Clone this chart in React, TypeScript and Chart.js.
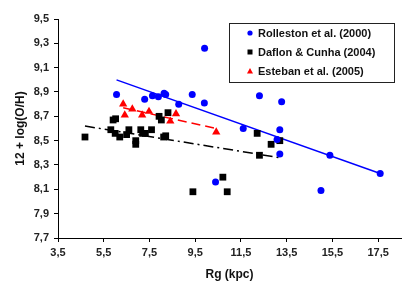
import React, { useEffect, useRef } from 'react';
import { Chart, registerables } from 'chart.js';

Chart.register(...registerables);

// ---- Data ----
const rolleston: [number, number][] = [
  [6.06, 8.88], [7.29, 8.84], [7.63, 8.87], [7.89, 8.86], [8.14, 8.89],
  [8.21, 8.88], [8.78, 8.8], [9.37, 8.88], [9.9, 8.81], [9.91, 9.26],
  [10.39, 8.16], [11.6, 8.6], [12.31, 8.87], [13.08, 8.51], [13.2, 8.59],
  [13.2, 8.39], [13.28, 8.82], [15.0, 8.09], [15.39, 8.38], [17.59, 8.23],
];
const daflon: [number, number][] = [
  [4.68, 8.53], [5.81, 8.59], [5.91, 8.67], [6.02, 8.68], [6.0, 8.56],
  [6.2, 8.53], [6.5, 8.55], [6.6, 8.59], [6.9, 8.5], [6.9, 8.47],
  [7.12, 8.59], [7.2, 8.56], [7.32, 8.56], [7.59, 8.59], [7.92, 8.7],
  [8.02, 8.67], [8.31, 8.73], [8.12, 8.53], [8.21, 8.54], [9.4, 8.08],
  [10.71, 8.2], [10.9, 8.08], [12.21, 8.56], [12.31, 8.38], [12.82, 8.47],
  [13.2, 8.5],
];
const esteban: [number, number][] = [
  [6.35, 8.8], [6.42, 8.71], [6.75, 8.76], [7.18, 8.71], [7.48, 8.74],
  [8.41, 8.66], [8.66, 8.72], [10.42, 8.57],
];
const rollestonFit: [number, number][] = [[6.06, 9.0], [17.59, 8.23]];
const daflonFit: [number, number][] = [[4.68, 8.62], [13.2, 8.36]];
const estebanFit: [number, number][] = [[6.35, 8.77], [10.42, 8.6]];

const seriesLabels = ['Rolleston et al. (2000)', 'Daflon & Cunha (2004)', 'Esteban et al. (2005)'];
const xTicks = [3.5, 5.5, 7.5, 9.5, 11.5, 13.5, 15.5, 17.5];
const yTicks = [7.7, 7.9, 8.1, 8.3, 8.5, 8.7, 8.9, 9.1, 9.3, 9.5];
const xTitle = 'Rg (kpc)';
const yTitle = '12 + log(O/H)';

const FONT = "'Liberation Sans', Arial, sans-serif";
const BLUE = '#0000ff';
const RED = '#ff0000';
const BLACK = '#000000';

const toPts = (a: [number, number][]) => a.map(([x, y]) => ({ x, y }));
const fmt = (v: number) => v.toFixed(1).replace('.', ',');

const boxLegend = {
  id: 'boxLegend',
  afterDraw(chart: any) {
    const ctx = chart.ctx as CanvasRenderingContext2D;
    const left = 229.5, top = 23.5, w = 165, h = 59;
    ctx.save();
    ctx.fillStyle = '#ffffff';
    ctx.fillRect(left, top, w, h);
    ctx.strokeStyle = '#222';
    ctx.lineWidth = 1;
    ctx.strokeRect(left, top, w, h);
    ctx.font = `bold 11px ${FONT}`;
    ctx.textBaseline = 'middle';
    ctx.textAlign = 'left';
    const rows = [33, 52, 71];
    chart.data.datasets.slice(0, 3).forEach((ds: any, i: number) => {
      const cy = rows[i];
      const cx = 250;
      ctx.fillStyle = ds.backgroundColor;
      if (ds.pointStyle === 'circle') {
        ctx.beginPath();
        ctx.arc(cx, cy, 2.6, 0, Math.PI * 2);
        ctx.fill();
      } else if (ds.pointStyle === 'rect') {
        ctx.fillRect(cx - 2.5, cy - 2.5, 5, 5);
      } else {
        ctx.beginPath();
        ctx.moveTo(cx, cy - 3);
        ctx.lineTo(cx + 3, cy + 2.5);
        ctx.lineTo(cx - 3, cy + 2.5);
        ctx.closePath();
        ctx.fill();
      }
      ctx.fillStyle = '#111';
      ctx.fillText(ds.label, 258, cy + 0.5);
    });
    ctx.restore();
  },
};

export default function App() {
  const ref = useRef<HTMLCanvasElement | null>(null);

  useEffect(() => {
    document.body.style.margin = '0';
    const canvas = ref.current;
    if (!canvas) return;
    const chart = new Chart(canvas, {
      type: 'scatter',
      data: {
        datasets: [
          {
            label: seriesLabels[0], data: toPts(rolleston), pointStyle: 'circle',
            backgroundColor: BLUE, borderColor: BLUE, pointRadius: 3.5, borderWidth: 0, order: 1,
          },
          {
            label: seriesLabels[1], data: toPts(daflon), pointStyle: 'rect',
            backgroundColor: BLACK, borderColor: BLACK, pointRadius: 4.8, borderWidth: 0, order: 1,
          },
          {
            label: seriesLabels[2], data: toPts(esteban), pointStyle: 'triangle',
            backgroundColor: RED, borderColor: RED, pointRadius: 4.8, borderWidth: 0, order: 1,
          },
          {
            label: 'fitR', data: toPts(rollestonFit), showLine: true, pointRadius: 0,
            borderColor: BLUE, borderWidth: 1.5, order: 2,
          },
          {
            label: 'fitD', data: toPts(daflonFit), showLine: true, pointRadius: 0,
            borderColor: BLACK, borderWidth: 1.5, borderDash: [10, 4, 2, 4], order: 2,
          },
          {
            label: 'fitE', data: toPts(estebanFit), showLine: true, pointRadius: 0,
            borderColor: RED, borderWidth: 1.5, borderDash: [9, 5], order: 2,
          },
        ],
      } as any,
      options: {
        responsive: false,
        animation: false,
        layout: { padding: { left: 0, right: 16, top: 19, bottom: 0 } },
        plugins: { legend: { display: false }, tooltip: { enabled: false } },
        scales: {
          x: {
            type: 'linear', min: 3.5, max: 18.5,
            afterBuildTicks: (s: any) => { s.ticks = xTicks.map((v) => ({ value: v })); },
            afterFit: (s: any) => { s.height = 53; },
            grid: { drawOnChartArea: false, drawTicks: true, tickLength: 4, color: BLACK },
            border: { display: true, color: BLACK, width: 1 },
            ticks: {
              callback: (v: any) => fmt(Number(v)), color: '#222', padding: 4,
              maxRotation: 0, autoSkip: false, font: { family: FONT, size: 11, weight: 'bold' },
            },
            title: {
              display: true, text: xTitle, color: '#111',
              font: { family: FONT, size: 12, weight: 'bold' }, padding: { top: 0, bottom: 9 },
            },
          },
          y: {
            type: 'linear', min: 7.7, max: 9.5,
            afterBuildTicks: (s: any) => { s.ticks = yTicks.map((v) => ({ value: v })); },
            afterFit: (s: any) => { s.width = 58; },
            grid: { drawOnChartArea: false, drawTicks: true, tickLength: 4, color: BLACK },
            border: { display: true, color: BLACK, width: 1 },
            ticks: {
              callback: (v: any) => fmt(Number(v)), color: '#222', padding: 5,
              autoSkip: false, font: { family: FONT, size: 11, weight: 'bold' },
            },
            title: {
              display: true, text: yTitle, color: '#111',
              font: { family: FONT, size: 12, weight: 'bold' }, padding: { top: 13, bottom: 0 },
            },
          },
        },
      } as any,
      plugins: [boxLegend],
    });
    return () => chart.destroy();
  }, []);

  return <canvas ref={ref} width={417} height={291} style={{ display: 'block' }} />;
}
